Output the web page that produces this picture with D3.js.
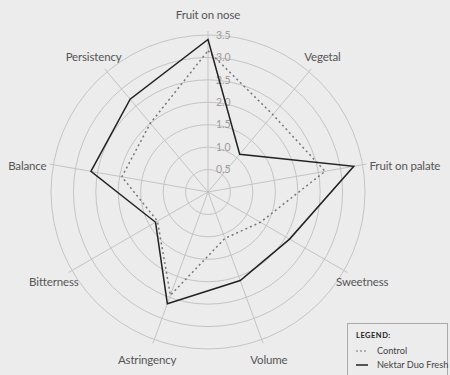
<!DOCTYPE html>
<html>
<head>
<meta charset="utf-8">
<script src="https://cdn.jsdelivr.net/npm/d3@7"></script>
<style>
  html, body { margin: 0; padding: 0; background: #ececec; }
  svg { display: block; font-family: Lato, Roboto, sans-serif; }
</style>
</head>
<body>
<div id="chart"></div>
<script>
  // attributes, clockwise from the top
  var axes = ['Fruit on nose', 'Vegetal', 'Fruit on palate', 'Sweetness', 'Volume',
    'Astringency', 'Bitterness', 'Balance', 'Persistency'];
  var control = [3.15, 2.25, 2.65, 1.35, 1.1, 2.45, 1.3, 1.95, 2.0];
  var nektar = [3.4, 1.1, 3.3, 2.1, 2.1, 2.65, 1.35, 2.65, 2.7];
  var ticks = [0.5, 1.0, 1.5, 2.0, 2.5, 3.0, 3.5];
  var seriesNames = ['Control', 'Nektar Duo Fresh'];

  var width = 450, height = 375;
  var cx = 208, cy = 192, radius = 157;

  var svg = d3.select('#chart').append('svg')
    .attr('width', width)
    .attr('height', height);

  var r = d3.scaleLinear().domain([0, 3.5]).range([0, radius]);
  var angle = d3.scaleLinear().domain([0, axes.length]).range([0, 2 * Math.PI]);

  var g = svg.append('g').attr('transform', 'translate(' + cx + ',' + cy + ')');

  // rings
  g.selectAll('.ring')
    .data(ticks)
    .enter().append('circle')
    .attr('class', 'ring')
    .attr('r', function (d) { return r(d); })
    .attr('fill', 'none')
    .attr('stroke', '#c4c4c4')
    .attr('stroke-width', 1);

  // spokes
  g.selectAll('.spoke')
    .data(axes)
    .enter().append('line')
    .attr('class', 'spoke')
    .attr('x1', 0).attr('y1', 0)
    .attr('x2', function (d, i) { return Math.sin(angle(i)) * (radius + 4); })
    .attr('y2', function (d, i) { return -Math.cos(angle(i)) * (radius + 4); })
    .attr('stroke', '#c4c4c4')
    .attr('stroke-width', 1);

  // tick labels on the top axis
  g.selectAll('.tick-label')
    .data(ticks)
    .enter().append('text')
    .attr('class', 'tick-label')
    .attr('x', 8)
    .attr('y', function (d) { return -r(d); })
    .attr('dy', '0.35em')
    .attr('fill', '#a09a98')
    .style('font-size', '10.5px')
    .text(function (d) { return d.toFixed(1); });

  // axis labels
  g.selectAll('.axis-label')
    .data(axes)
    .enter().append('text')
    .attr('class', 'axis-label')
    .each(function (d, i) {
      var s = Math.sin(angle(i)), c = -Math.cos(angle(i));
      var el = d3.select(this);
      if (Math.abs(s) > 0.95) {
        el.attr('x', s * 164).attr('y', c * 164 + 2)
          .attr('text-anchor', s > 0 ? 'start' : 'end');
      } else {
        el.attr('x', s * 178).attr('y', c * 178 + 1)
          .attr('text-anchor', 'middle');
      }
    })
    .attr('dy', '0.35em')
    .attr('fill', '#555')
    .style('font-size', '11.5px')
    .style('letter-spacing', '-0.15px')
    .text(function (d) { return d; });

  var line = d3.lineRadial()
    .angle(function (d, i) { return angle(i); })
    .radius(function (d) { return r(d); })
    .curve(d3.curveLinearClosed);

  g.append('path')
    .datum(control)
    .attr('d', line)
    .attr('fill', 'none')
    .attr('stroke', '#777')
    .attr('stroke-width', 1.5)
    .attr('stroke-dasharray', '2,3');

  g.append('path')
    .datum(nektar)
    .attr('d', line)
    .attr('fill', 'none')
    .attr('stroke', '#222')
    .attr('stroke-width', 1.5);

  // legend
  var legend = svg.append('g').attr('transform', 'translate(347,323)');
  legend.append('rect')
    .attr('x', 0.5).attr('y', 0.5)
    .attr('width', 100).attr('height', 60)
    .attr('fill', 'none')
    .attr('stroke', '#aaa');
  legend.append('text')
    .attr('x', 9).attr('y', 15)
    .attr('fill', '#222')
    .style('font-size', '7.5px')
    .style('font-weight', 'bold')
    .style('letter-spacing', '0.5px')
    .text('LEGEND:');
  var item = legend.selectAll('.item')
    .data(seriesNames)
    .enter().append('g')
    .attr('class', 'item')
    .attr('transform', function (d, i) { return 'translate(0,' + (28 + i * 14) + ')'; });
  item.append('line')
    .attr('x1', 9).attr('x2', 21)
    .attr('stroke', function (d, i) { return i ? '#222' : '#777'; })
    .attr('stroke-width', function (d, i) { return i ? 1.5 : 1; })
    .attr('stroke-dasharray', function (d, i) { return i ? null : '2,2'; });
  item.append('text')
    .attr('x', 30).attr('dy', '0.35em')
    .attr('fill', '#444')
    .style('font-size', '9.2px')
    .text(function (d) { return d; });
</script>
</body>
</html>
